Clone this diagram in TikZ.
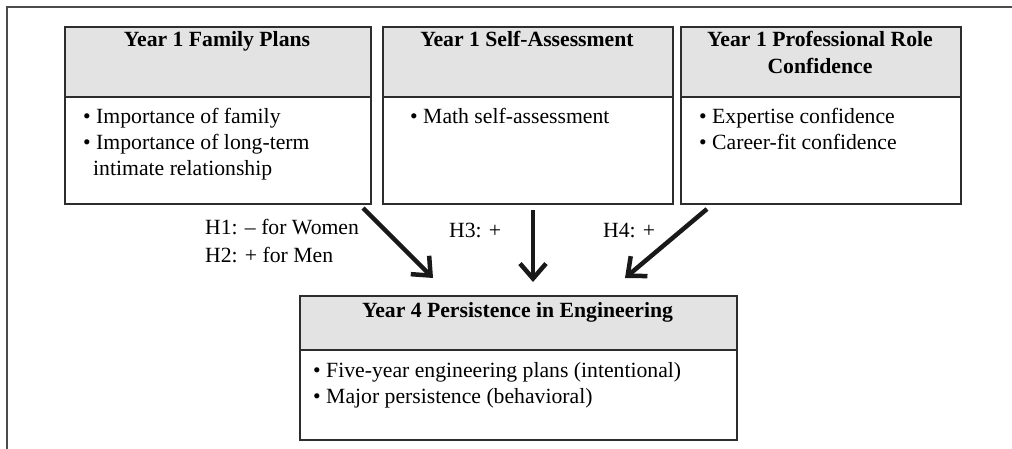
\documentclass[tikz,border=0pt]{standalone}
\usepackage{fontspec}
\setmainfont{Liberation Serif}
\usetikzlibrary{arrows.meta}
\definecolor{hdr}{RGB}{227,227,227}
\definecolor{edge}{RGB}{45,45,45}
\begin{document}
\begin{tikzpicture}[x=1pt,y=-1pt,
  box/.style={draw=edge,line width=2pt,rectangle,inner sep=0pt,anchor=north west},
  hbox/.style={box,fill=hdr},
  txt/.style={inner sep=0pt,anchor=base west,font=\fontsize{21.7}{26}\selectfont},
  htxt/.style={inner sep=0pt,anchor=base,font=\fontsize{21.7}{26}\selectfont\bfseries},
  arr/.style={draw=black!90,line width=4.5pt,-{Straight Barb[length=15pt,width=26pt,line width=4.5pt]}}]
\useasboundingbox (0,0) rectangle (1012,449);
\draw[line width=1.5pt,draw=edge!85] (7,449) -- (7,7) -- (1012,7);
% top boxes
\node[hbox,minimum width=306pt,minimum height=70pt] (h1) at (64,26) {};
\node[box,minimum width=306pt,minimum height=107pt] (b1) at (64,96) {};
\node[hbox,minimum width=290pt,minimum height=70pt] (h2) at (382,26) {};
\node[box,minimum width=290pt,minimum height=107pt] (b2) at (382,96) {};
\node[hbox,minimum width=280pt,minimum height=70pt] (h3) at (680,26) {};
\node[box,minimum width=280pt,minimum height=107pt] (b3) at (680,96) {};
% bottom box
\node[hbox,minimum width=437pt,minimum height=54pt] (h4) at (299,295) {};
\node[box,minimum width=437pt,minimum height=90pt] (b4) at (299,349) {};
% header texts
\node[htxt] (t1) at (217,47) {Year 1 Family Plans};
\node[htxt] (t2) at (527,47) {Year 1 Self-Assessment};
\node[htxt] (t3a) at (820,47) {Year 1 Professional Role};
\node[htxt] (t3b) at (820,74) {Confidence};
\node[htxt] (t4) at (517.5,317) {Year 4 Persistence in Engineering};
% body texts
\node[txt] (l1a) at (83,124) {• Importance of family};
\node[txt] (l1b) at (83,150) {• Importance of long-term};
\node[txt] (l1c) at (93,176) {intimate relationship};
\node[txt] (l2a) at (410,124) {• Math self-assessment};
\node[txt] (l3a) at (699,124) {• Expertise confidence};
\node[txt] (l3b) at (699,150) {• Career-fit confidence};
\node[txt] (l4a) at (313,377) {• Five-year engineering plans (intentional)};
\node[txt] (l4b) at (313,403) {• Major persistence (behavioral)};
% labels
\node[txt] (H1) at (205,235) {H1: – for Women};
\node[txt] (H2) at (205,262) {H2: + for Men};
\node[txt] (H3) at (449,237) {H3: +};
\node[txt] (H4) at (603,237) {H4: +};
% arrows
\coordinate (s1) at (363,208); \coordinate (e1) at (433,278);
\coordinate (s2) at (533,210); \coordinate (e2) at (533,282);
\coordinate (s3) at (707,209); \coordinate (e3) at (625,278);
\draw[arr] (s1) -- (e1);
\draw[arr] (s2) -- (e2);
\draw[arr] (s3) -- (e3);
\end{tikzpicture}
\end{document}
